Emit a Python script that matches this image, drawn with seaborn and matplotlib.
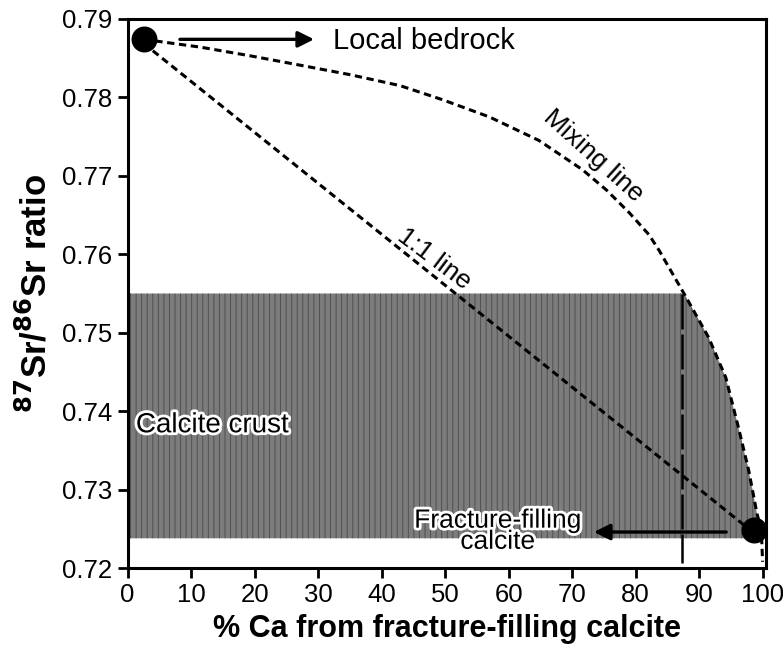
import numpy as np
import pandas as pd
import matplotlib
matplotlib.use("Agg")
import matplotlib.pyplot as plt
import matplotlib.patheffects as pe
import seaborn as sns

# End-member compositions (% Ca from fracture-filling calcite, 87Sr/86Sr)
end_x = [2.5, 98.6]
end_y = [0.7874, 0.7248]
end_names = ["Local bedrock", "Fracture-filling calcite"]

# Two-component mixing curve
mix_x = [2.5, 11.5, 19.3, 27.2, 35.0, 42.9, 49.6, 57.0, 64.8, 71.6, 75.4,
         79.0, 82.1, 83.7, 87.9, 91.5, 94.2, 96.2, 97.8, 99.1, 99.8, 100.0]
mix_y = [0.7874, 0.7864, 0.7853, 0.7841, 0.7829, 0.7815, 0.7797, 0.7775,
         0.7745, 0.7708, 0.7682, 0.7653, 0.7625, 0.7605, 0.7546, 0.7494,
         0.7443, 0.7379, 0.7325, 0.7270, 0.7248, 0.7208]

# Straight 1:1 line between the end members
one_x = [2.5, 98.6]
one_y = [0.7869, 0.7245]

# Range of the calcite crust samples
crust_lo = 0.7238
crust_hi = 0.7550
crust_cut = 87.3  # % Ca where the crust range meets the mixing curve

x_ticks = [0, 10, 20, 30, 40, 50, 60, 70, 80, 90, 100]
y_ticks = [0.72, 0.73, 0.74, 0.75, 0.76, 0.77, 0.78, 0.79]

sns.set_style("ticks")
plt.rcParams["font.family"] = ["Liberation Sans", "DejaVu Sans"]
plt.rcParams["text.color"] = "black"
plt.rcParams["axes.labelcolor"] = "black"
plt.rcParams["xtick.color"] = "black"
plt.rcParams["ytick.color"] = "black"
plt.rcParams["hatch.linewidth"] = 0.7

fig = plt.figure(figsize=(7.83, 6.53), dpi=100)
ax = fig.add_axes([0.163, 0.130, 0.815, 0.841])

# Calcite crust band, bounded on the right by the mixing curve
xs = np.linspace(0, 100, 800)
cy = np.interp(xs, mix_x, mix_y)
top = np.minimum(crust_hi, cy)
ax.fill_between(xs, crust_lo, top, where=top > crust_lo, facecolor="#7c7c7c",
                edgecolor="#505050", hatch="|||", linewidth=0, zorder=1)

mix_df = pd.DataFrame({"x": mix_x, "y": mix_y})
one_df = pd.DataFrame({"x": one_x, "y": one_y})
end_df = pd.DataFrame({"x": end_x, "y": end_y, "name": end_names})

sns.lineplot(data=mix_df, x="x", y="y", ax=ax, color="black", lw=2.2,
             sort=False, zorder=3)
ax.lines[-1].set_dashes((2.4, 1.5))
ax.lines[-1].set_solid_joinstyle("round")
sns.lineplot(data=one_df, x="x", y="y", ax=ax, color="black", lw=2.2,
             sort=False, zorder=3)
ax.lines[-1].set_dashes((2.4, 1.5))

# Vertical marker where the crust range meets the mixing curve
ax.plot([crust_cut, crust_cut], [crust_hi, 0.7207], color="black", lw=1.8,
        dashes=(14, 2), zorder=3)

sns.scatterplot(data=end_df, x="x", y="y", ax=ax, color="black", s=300,
                edgecolor="black", zorder=5, legend=False, clip_on=False)

# Arrows and labels
ax.annotate("", xy=(29.8, 0.7874), xytext=(7.8, 0.7874),
            arrowprops=dict(arrowstyle="-|>", color="black", lw=2.4,
                            mutation_scale=24))
ax.text(32.4, 0.7872, "Local bedrock", fontsize=21, va="center", ha="left")

ax.annotate("", xy=(73.0, 0.7246), xytext=(94.7, 0.7246),
            arrowprops=dict(arrowstyle="-|>", color="black", lw=2.4,
                            mutation_scale=24), zorder=4)

halo = [pe.withStroke(linewidth=4, foreground="white")]
ax.text(58.3, 0.7247, "Fracture-filling\ncalcite", fontsize=19, ha="center",
        va="center", linespacing=0.85, path_effects=halo, zorder=6)
ax.text(1.3, 0.7382, "Calcite crust", fontsize=20, ha="left", va="center",
        path_effects=halo, zorder=6)

ax.text(73.3, 0.7725, "Mixing line", fontsize=19, ha="center", va="center",
        rotation=-42, zorder=6)
ax.text(48.3, 0.7594, "1:1 line", fontsize=19, ha="center", va="center",
        rotation=-37, zorder=6)

ax.set_xlim(0, 100.5)
ax.set_ylim(0.72, 0.79)
ax.set_xticks(x_ticks)
ax.set_yticks(y_ticks)
ax.set_xticklabels([str(t) for t in x_ticks])
ax.set_yticklabels([f"{t:.2f}" for t in y_ticks])
ax.tick_params(axis="both", direction="out", length=7, width=2.0,
               labelsize=18.5, pad=4)

for s in ax.spines.values():
    s.set_linewidth(2.2)
    s.set_color("black")
    s.set_visible(True)

ax.set_xlabel("% Ca from fracture-filling calcite", fontsize=22,
              fontweight="bold", labelpad=5)
ax.set_ylabel(r"$\mathbf{^{87}}$Sr/$\mathbf{^{86}}$Sr ratio", fontsize=25,
              fontweight="bold", labelpad=6)

fig.savefig("out.png", dpi=100, facecolor="white")
